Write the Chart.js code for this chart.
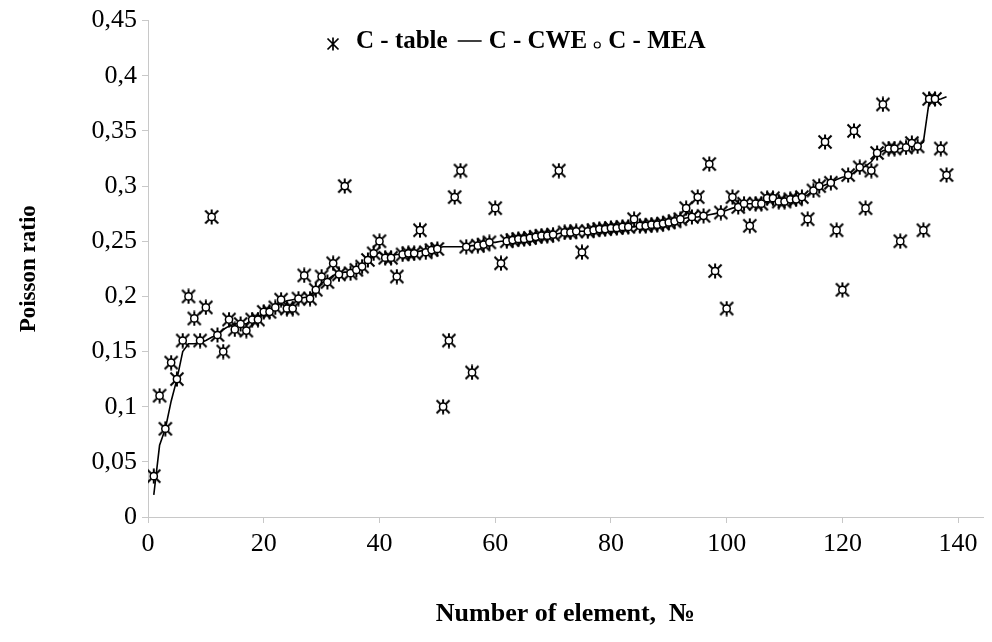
<!DOCTYPE html>
<html>
<head>
<meta charset="utf-8">
<script src="https://cdn.jsdelivr.net/npm/chart.js@4/dist/chart.umd.min.js"></script>
<style>
  html, body { margin: 0; padding: 0; background: #fff; }
  #wrap { width: 992px; height: 642px; position: relative; }
</style>
</head>
<body>
<div id="wrap"><canvas id="chart"></canvas></div>
<script>
// values, element No 1..138
const tableVals = [
  0.037, 0.11, 0.08, 0.14, 0.125, 0.16, 0.2, 0.18, 0.16, 0.19,
  0.272, 0.165, 0.15, 0.179, 0.17, 0.175, 0.169, 0.179, 0.179, 0.186,
  0.186, 0.19, 0.197, 0.189, 0.189, 0.198, 0.219, 0.198, 0.206, 0.218,
  0.213, 0.23, 0.22, 0.3, 0.221, 0.224, 0.227, 0.233, 0.239, 0.25,
  0.235, 0.235, 0.218, 0.238, 0.239, 0.239, 0.26, 0.24, 0.242, 0.243,
  0.1, 0.16, 0.29, 0.314, 0.245, 0.131, 0.246, 0.247, 0.249, 0.28,
  0.23, 0.25, 0.251, 0.252, 0.252, 0.253, 0.254, 0.255, 0.255, 0.256,
  0.314, 0.258, 0.258, 0.259, 0.24, 0.259, 0.26, 0.261, 0.261, 0.262,
  0.262, 0.263, 0.263, 0.27, 0.264, 0.264, 0.265, 0.265, 0.266, 0.267,
  0.268, 0.27, 0.28, 0.272, 0.29, 0.273, 0.32, 0.223, 0.276, 0.189,
  0.29, 0.281, 0.284, 0.264, 0.284, 0.284, 0.289, 0.289, 0.286, 0.286,
  0.288, 0.288, 0.29, 0.27, 0.296, 0.3, 0.34, 0.303, 0.26, 0.206,
  0.31, 0.35, 0.317, 0.28, 0.314, 0.33, 0.374, 0.334, 0.334, 0.25,
  0.335, 0.339, 0.336, 0.26, 0.379, 0.379, 0.334, 0.31
];
const cweVals = [
  0.02, 0.065, 0.08, 0.105, 0.125, 0.15, 0.157, 0.157, 0.158, 0.16,
  0.163, 0.165, 0.17, 0.173, 0.175, 0.176, 0.175, 0.179, 0.181, 0.185,
  0.187, 0.19, 0.194, 0.196, 0.197, 0.198, 0.199, 0.2, 0.206, 0.212,
  0.215, 0.219, 0.221, 0.222, 0.222, 0.224, 0.227, 0.232, 0.236, 0.24,
  0.236, 0.237, 0.238, 0.238, 0.239, 0.24, 0.241, 0.242, 0.243, 0.244,
  0.245, 0.245, 0.245, 0.245, 0.245, 0.246, 0.246, 0.247, 0.249, 0.249,
  0.25, 0.25, 0.251, 0.252, 0.252, 0.253, 0.254, 0.255, 0.255, 0.256,
  0.257, 0.258, 0.258, 0.259, 0.259, 0.259, 0.26, 0.261, 0.261, 0.262,
  0.262, 0.263, 0.263, 0.263, 0.264, 0.264, 0.265, 0.265, 0.266, 0.267,
  0.268, 0.27, 0.271, 0.272, 0.272, 0.273, 0.274, 0.275, 0.276, 0.278,
  0.28, 0.281, 0.284, 0.284, 0.284, 0.284, 0.286, 0.287, 0.286, 0.286,
  0.288, 0.288, 0.29, 0.292, 0.296, 0.299, 0.301, 0.303, 0.306, 0.308,
  0.309, 0.312, 0.316, 0.318, 0.322, 0.329, 0.332, 0.333, 0.333, 0.334,
  0.334, 0.337, 0.336, 0.34, 0.377, 0.378, 0.379, 0.381
];
// MEA circles sit on the table markers in the picture
const meaVals = tableVals.slice();

const xTicks = [0, 20, 40, 60, 80, 100, 120, 140];
const yTicks = [0, 0.05, 0.1, 0.15, 0.2, 0.25, 0.3, 0.35, 0.4, 0.45];
const seriesNames = ["C - table", "C - CWE", "C - MEA"];

const elementNo = tableVals.map((v, i) => i + 1);
const toPoints = vals => vals.map((v, i) => ({ x: elementNo[i], y: v }));

// excel-like star marker: X plus a vertical bar
function makeStar(size, lw) {
  const c = document.createElement("canvas");
  c.width = size; c.height = size;
  const g = c.getContext("2d");
  g.strokeStyle = "#000";
  g.lineWidth = lw;
  const m = 1.5, s = size - 1.5, h = size / 2;
  g.beginPath();
  g.moveTo(m, m); g.lineTo(s, s);
  g.moveTo(s, m); g.lineTo(m, s);
  g.moveTo(h, 0.5); g.lineTo(h, size - 0.5);
  g.stroke();
  return c;
}
const starImg = makeStar(16, 2);
const starLegend = makeStar(14, 1.7);

const fmt = v => {
  let s = (Math.round(v * 100) / 100).toFixed(2).replace(/0+$/, "").replace(/\.$/, "");
  return s.replace(".", ",");
};

const SERIF = '"Liberation Serif", "Times New Roman", serif';

// legend sits inside the plot area, like the original
const innerLegend = {
  id: "innerLegend",
  afterDraw(chart) {
    const ctx = chart.ctx;
    ctx.save();
    ctx.font = "bold 25px " + SERIF;
    ctx.fillStyle = "#000";
    ctx.textBaseline = "alphabetic";
    const base = 48;
    let x = 333;
    // table
    ctx.drawImage(starLegend, x - 7, 44 - 7);
    x = 356;
    ctx.fillText(seriesNames[0], x, base);
    x += ctx.measureText(seriesNames[0]).width + 10;
    // CWE
    ctx.strokeStyle = "#000"; ctx.lineWidth = 1.5;
    ctx.beginPath(); ctx.moveTo(x, 41); ctx.lineTo(x + 24, 41); ctx.stroke();
    x += 31;
    ctx.fillText(seriesNames[1], x, base);
    x += ctx.measureText(seriesNames[1]).width + 7;
    // MEA
    ctx.beginPath(); ctx.arc(x + 3, 45, 3, 0, Math.PI * 2);
    ctx.fillStyle = "#fff"; ctx.fill(); ctx.lineWidth = 1.2; ctx.stroke();
    ctx.fillStyle = "#000";
    x += 14;
    ctx.fillText(seriesNames[2], x, base);
    ctx.restore();
  }
};

new Chart(document.getElementById("chart"), {
  type: "scatter",
  data: {
    datasets: [
      {
        label: seriesNames[0], data: toPoints(tableVals), order: 1,
        pointStyle: starImg, pointRadius: 8, pointHoverRadius: 8,
        borderColor: "#000", backgroundColor: "#000", showLine: false
      },
      {
        label: seriesNames[1], data: toPoints(cweVals), order: 2,
        showLine: true, borderColor: "#000", borderWidth: 1.6,
        pointRadius: 0, pointHoverRadius: 0, tension: 0, fill: false
      },
      {
        label: seriesNames[2], data: toPoints(meaVals), order: 0,
        pointStyle: "circle", pointRadius: 3.6, pointHoverRadius: 3.6,
        borderColor: "#000", borderWidth: 1.5, backgroundColor: "#fff", showLine: false
      }
    ]
  },
  options: {
    responsive: true,
    maintainAspectRatio: false,
    animation: false,
    layout: { padding: { top: 8, right: 0, left: 0, bottom: 0 } },
    plugins: { legend: { display: false }, tooltip: { enabled: false } },
    scales: {
      x: {
        type: "linear", min: 0, max: 144.3,
        afterBuildTicks: s => { s.ticks = xTicks.map(v => ({ value: v })); },
        afterFit: s => { s.height = 125; },
        grid: { drawOnChartArea: false, drawTicks: true, tickLength: 6, color: "#c8c8c8" },
        border: { display: true, color: "#c8c8c8" },
        ticks: { color: "#000", padding: 6, font: { family: SERIF, size: 26 } },
        title: {
          display: true, text: "Number of element,  №", color: "#000",
          font: { family: SERIF, size: 26, weight: "bold" }, padding: { top: 0, bottom: 12 }
        }
      },
      y: {
        type: "linear", min: 0, max: 0.45,
        afterBuildTicks: s => { s.ticks = yTicks.map(v => ({ value: v })); },
        afterFit: s => { s.width = 148; },
        grid: { drawOnChartArea: false, drawTicks: true, tickLength: 6, color: "#c8c8c8" },
        border: { display: true, color: "#c8c8c8" },
        ticks: { color: "#000", padding: 5, font: { family: SERIF, size: 26 }, callback: v => fmt(v) },
        title: {
          display: true, text: "Poisson ratio", color: "#000",
          font: { family: SERIF, size: 23, weight: "bold" }, padding: { top: 15, bottom: 0 }
        }
      }
    }
  },
  plugins: [innerLegend]
});
</script>
</body>
</html>
